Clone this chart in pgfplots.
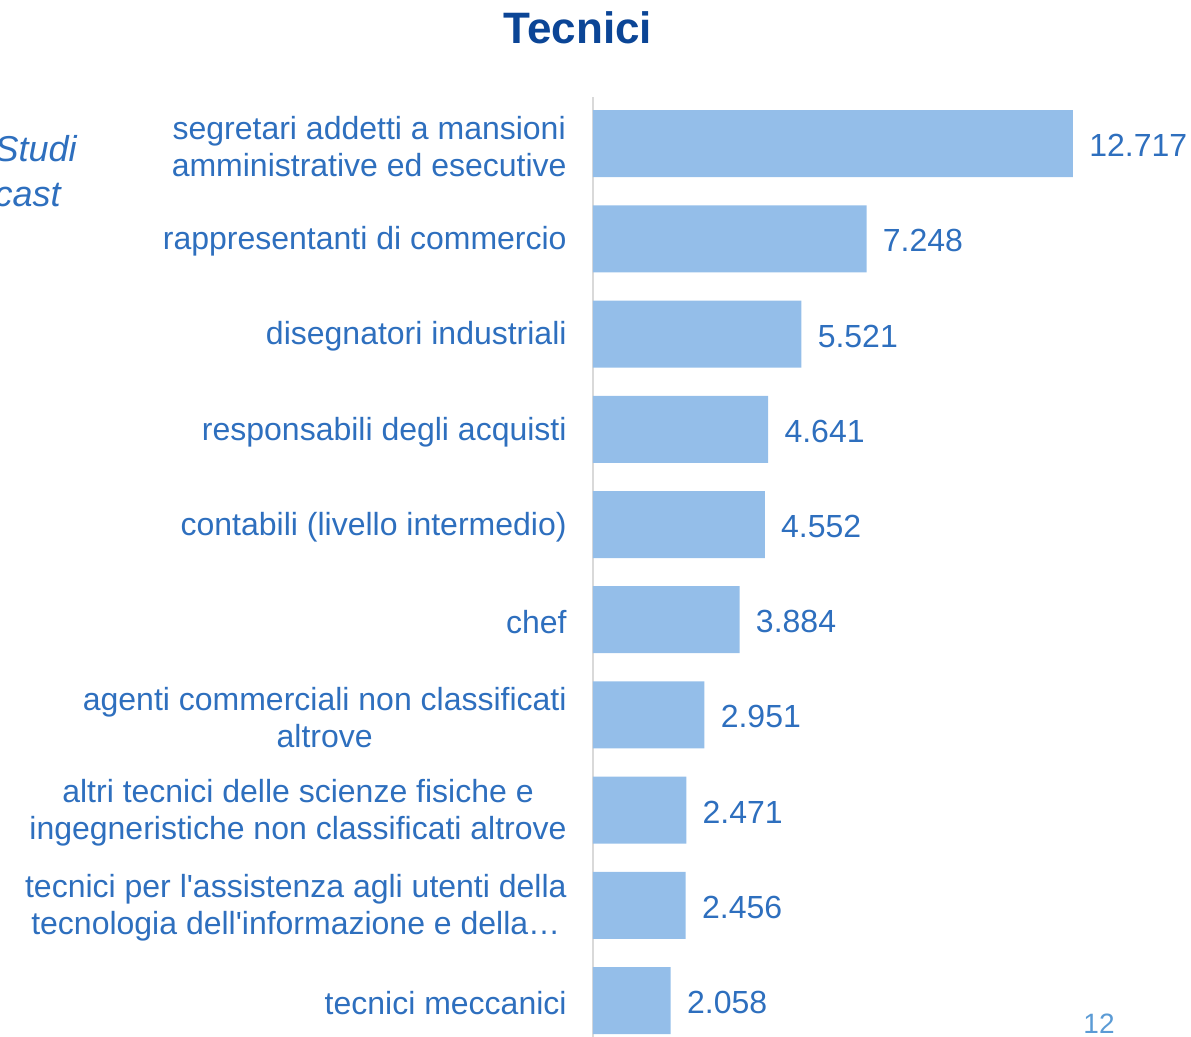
\documentclass[border=0pt]{standalone}
\usepackage{fontspec}
\setmainfont{Liberation Sans}
\newfontfamily\aposfont{Liberation Sans}
\usepackage{pgfplots}
\pgfplotsset{compat=1.18}
\definecolor{labblue}{HTML}{2E6FBE}
\definecolor{titleblue}{HTML}{0B4596}
\definecolor{barblue}{HTML}{94BEE9}
\definecolor{pageblue}{HTML}{5B9BD5}
\newcommand{\ap}{{\aposfont'}}
\begin{document}
\begin{tikzpicture}[x=1pt,y=1pt]
\useasboundingbox (0,0) rectangle (595.5,518.5);
\begin{axis}[
  at={(296.5pt,0pt)}, anchor=south west,
  scale only axis, width=292.5pt, height=469.85pt,
  xmin=0, xmax=15.5, ymin=-0.488, ymax=9.383,
  y dir=reverse,
  xbar, bar width=0.704,
  axis x line=none, axis y line*=left,
  y axis line style={draw=black!15, line width=1pt},
  ytick={0,...,9},
  yticklabels={
    {segretari addetti a mansioni\\amministrative ed esecutive},
    {rappresentanti di commercio},
    {disegnatori industriali},
    {responsabili degli acquisti},
    {contabili (livello intermedio)},
    {chef},
    {agenti commerciali non classificati\\altrove},
    {altri tecnici delle scienze fisiche e\\ingegneristiche non classificati altrove},
    {tecnici per l\ap assistenza agli utenti della\\tecnologia dell\ap informazione e della…},
    {tecnici meccanici}},
  major tick length=0pt,
  yticklabel style={font=\fontsize{16}{18.5}\selectfont, text=labblue, align=center, anchor=east, inner sep=0pt, xshift=-13pt, yshift=-1.2pt},
  point meta=explicit symbolic,
  nodes near coords,
  nodes near coords style={font=\fontsize{16}{18.5}\selectfont, text=labblue, anchor=west, inner sep=0pt, xshift=8pt, yshift=-1pt},
  clip=false,
]
\addplot[fill=barblue, draw=none] coordinates {
  (12.717,0) [12.717]
  (7.248,1) [7.248]
  (5.521,2) [5.521]
  (4.641,3) [4.641]
  (4.552,4) [4.552]
  (3.884,5) [3.884]
  (2.951,6) [2.951]
  (2.471,7) [2.471]
  (2.456,8) [2.456]
  (2.058,9) [2.058]
};
\end{axis}
\node[font=\bfseries\fontsize{22}{26}\selectfont, text=titleblue] at (289,504.5) {Tecnici};
\node[anchor=base east, inner sep=0pt, font=\itshape\fontsize{18}{22}\selectfont, text=labblue] at (38.5,437.5) {Studi};
\node[anchor=base east, inner sep=0pt, font=\itshape\fontsize{18}{22}\selectfont, text=labblue] at (30.5,415) {cast};
\node[anchor=base, inner sep=0pt, font=\fontsize{14}{17}\selectfont, text=pageblue] at (549.5,1.5) {12};
\end{tikzpicture}
\end{document}
